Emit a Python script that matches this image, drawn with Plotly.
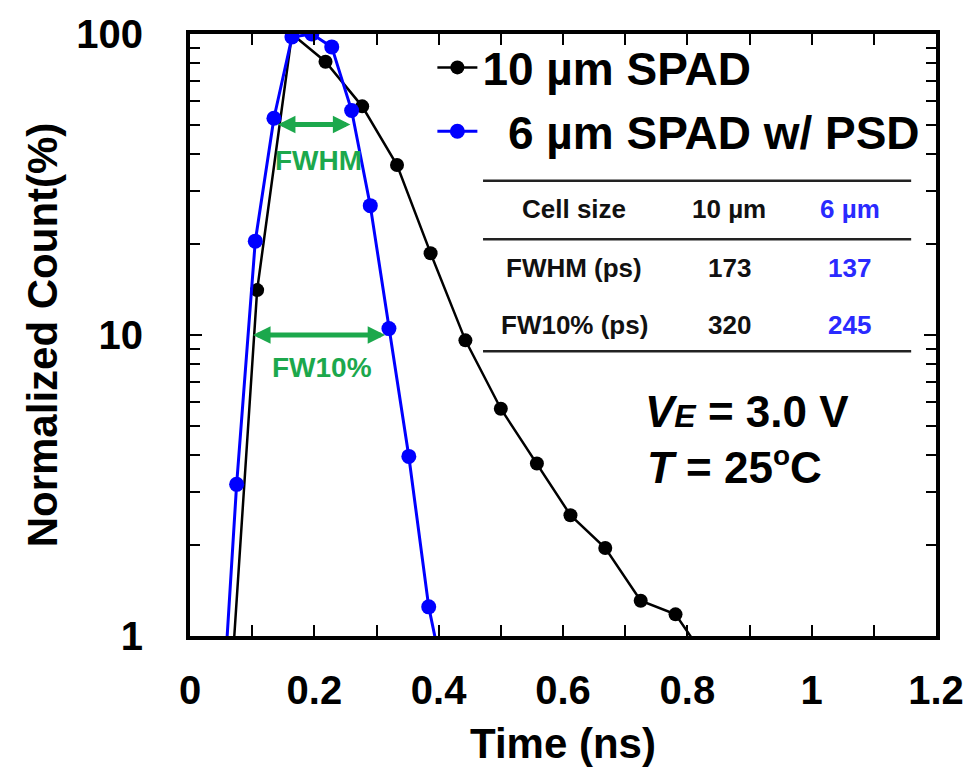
import plotly.graph_objects as go
import numpy as np

# ---- data ----
black_t = [0.052, 0.108, 0.164, 0.218, 0.277, 0.333, 0.387, 0.443, 0.500, 0.558, 0.612, 0.668, 0.725, 0.781, 0.837]
black_v = [0.25, 14.1, 100, 80.9, 57.5, 36.7, 18.7, 9.6, 5.69, 3.74, 2.52, 1.96, 1.31, 1.18, 0.8]
blue_t = [0.044, 0.075, 0.105, 0.135, 0.164, 0.196, 0.228, 0.260, 0.290, 0.320, 0.352, 0.384, 0.416]
blue_v = [0.3, 3.19, 20.5, 52.5, 97.7, 100, 90.6, 55.7, 26.9, 10.5, 3.95, 1.25, 0.6]

series_names = ["10 µm SPAD", "\u00a0\u00a06 µm SPAD w/ PSD"]
x_ticks = [0, 0.2, 0.4, 0.6, 0.8, 1.0, 1.2]
x_ticktext = ["0", "0.2", "0.4", "0.6", "0.8", "1", "1.2"]
y_major = [1, 10, 100]
y_minor = [2, 3, 4, 5, 6, 7, 8, 9, 20, 30, 40, 50, 60, 70, 80, 90]

table_header = ["Cell size", "10 µm", "6 µm"]
table_rows = [["FWHM (ps)", "173", "137"], ["FW10% (ps)", "320", "245"]]

FONT = "Liberation Sans, Arial, sans-serif"
BLUE = "#0000ff"
TBLUE = "#2a2aff"
GREEN = "#1ca84c"

fig = go.Figure()
fig.add_trace(go.Scatter(x=black_t, y=black_v, mode="lines+markers", name=series_names[0],
                         line=dict(color="black", width=2.5),
                         marker=dict(color="black", size=14), legendgroup="a"))
fig.add_trace(go.Scatter(x=blue_t, y=blue_v, mode="lines+markers", name=series_names[1],
                         line=dict(color=BLUE, width=3),
                         marker=dict(color=BLUE, size=15), legendgroup="b"))

fig.update_xaxes(range=[0, 1.2], tickvals=x_ticks, ticktext=x_ticktext,
                 ticks="inside", ticklen=11, tickwidth=2, tickcolor="black",
                 minor=dict(dtick=0.1, ticks="inside", ticklen=11, tickwidth=2, tickcolor="black"),
                 showline=True, linecolor="black", linewidth=4, mirror="ticks",
                 showgrid=False, zeroline=False,
                 tickfont=dict(family=FONT, size=40, color="black", weight="bold"),
                 ticklabelstandoff=16,
                 title=dict(text="<b>Time (ns)</b>", font=dict(family=FONT, size=42, color="black"),
                            standoff=19))
fig.update_yaxes(type="log", range=[0, 2], tickvals=y_major, ticktext=[str(v) for v in y_major],
                 ticks="inside", ticklen=12, tickwidth=2, tickcolor="black",
                 minor=dict(tickvals=y_minor, ticks="inside", ticklen=10, tickwidth=2, tickcolor="black",
                            showgrid=False),
                 showline=True, linecolor="black", linewidth=4, mirror="ticks",
                 showgrid=False, zeroline=False,
                 tickfont=dict(family=FONT, size=40, color="black", weight="bold"),
                 ticklabelstandoff=35,
                 title=dict(text="<b>Normalized Count(%)</b>", font=dict(family=FONT, size=42, color="black"),
                            standoff=7))

W, H = 976, 777
L, R, T, B = 190, 35, 29, 141
pw, ph = W - L - R, H - T - B

def px(x):
    return (x - L) / pw

def py(y):
    return (H - B - y) / ph

shapes = []
for yy in [177, 236, 349]:
    shapes.append(dict(type="line", xref="paper", yref="paper", x0=px(485), x1=px(916),
                       y0=py(yy), y1=py(yy), line=dict(color="#222222", width=2.5)))

annotations = []
col_x = [577, 733, 854]
row_y = [205, 265, 322]
all_rows = [table_header] + table_rows
for ri, row in enumerate(all_rows):
    for ci, cell in enumerate(row):
        annotations.append(dict(xref="paper", yref="paper", x=px(col_x[ci]), y=py(row_y[ri]),
                                text="<b>" + cell + "</b>", showarrow=False,
                                xanchor="center", yanchor="middle",
                                font=dict(family=FONT, size=26, color=TBLUE if ci == 2 else "#111111")))

annotations.append(dict(xref="paper", yref="paper", x=px(646), y=py(436),
                        text="<b><i>V</i><i><span style='font-size:32px'>E</span></i> = 3.0 V</b>",
                        showarrow=False, xanchor="left", yanchor="bottom",
                        font=dict(family=FONT, size=44, color="black")))
annotations.append(dict(xref="paper", yref="paper", x=px(648), y=py(436),
                        text="<b><i>T</i> = 25<sup><span style='font-size:28px'>o</span></sup>C</b>",
                        showarrow=False, xanchor="left", yanchor="top",
                        font=dict(family=FONT, size=44, color="black")))

# FWHM / FW10% arrows
for (x0, x1, yv, label, ly, lx) in [(0.139, 0.258, 50, "FWHM", 157, 319),
                                    (0.099, 0.314, 10, "FW10%", 365, 323)]:
    annotations.append(dict(x=x1, y=np.log10(yv), ax=x0, ay=np.log10(yv), xref="x", yref="y",
                            axref="x", ayref="y", text="", showarrow=True,
                            arrowhead=2, startarrowhead=2, arrowside="end+start",
                            arrowsize=0.7, startarrowsize=0.7, arrowwidth=5, arrowcolor=GREEN))
    annotations.append(dict(xref="paper", yref="paper", x=px(lx), y=py(ly), text="<b>" + label + "</b>",
                            showarrow=False, xanchor="center", yanchor="middle",
                            font=dict(family=FONT, size=28, color=GREEN)))

fig.update_layout(
    width=W, height=H,
    margin=dict(l=L, r=R, t=T, b=B),
    paper_bgcolor="white", plot_bgcolor="white",
    showlegend=True,
    legend=dict(x=px(434), y=py(26), xanchor="left", yanchor="top",
                bgcolor="rgba(0,0,0,0)", tracegroupgap=1,
                font=dict(family=FONT, size=46, color="black", weight="bold"),
                itemwidth=40),
    shapes=shapes, annotations=annotations,
)

fig.write_html("out.html")
